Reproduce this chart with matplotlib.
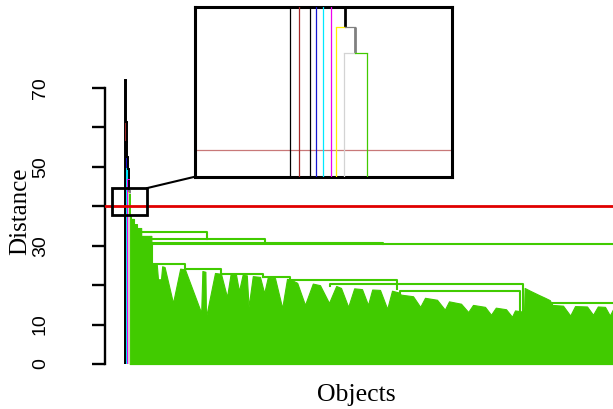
import numpy as np
import matplotlib
matplotlib.use("Agg")
import matplotlib.pyplot as plt
from matplotlib.patches import Rectangle, ConnectionPatch

plt.rcParams["font.family"] = ["Liberation Sans", "DejaVu Sans"]

GREEN = "#41CB00"

# ---------------------------------------------------------------- data
# Small clusters that join the tree one at a time (left to right);
# after them comes the root of the large green cluster.
leaf_colors = ["#000000", "#A52A2A", "#000000", "#1515D0", "#00E8FF",
               "#EE00EE", "#FFF000", "#D3D3D3"]
chain_heights = [72.0, 61.4, 56.4, 52.5, 49.5, 46.8, 43.8, 43.0]
node_colors = ["#000000"] * 7 + ["#808080"]
green_root_pos = 8.5
green_root_height = 37.8

# Top outline of the dense part of the green cluster (object index, distance)
green_edge_x = [8, 10, 10, 15, 15, 20, 20, 27, 27, 44, 44,
                45, 53, 55, 60, 62, 66, 80, 92, 100, 127, 129, 134, 135, 150,
                160, 170, 176, 185, 190, 196, 203, 206, 213, 225, 232, 238,
                250, 262, 270, 275,
                287, 300, 313, 325, 340, 352, 360, 372, 382, 395, 405, 412,
                425, 437, 445, 455,
                460, 480, 492, 500, 520, 533, 540, 560, 572, 580, 600, 610,
                618, 635, 645, 650, 663,
                665, 666, 675, 690, 700, 708, 712, 730, 742, 750, 770, 780,
                788, 800, 808, 815, 830]
green_edge_h = [37.8, 37.8, 36.8, 36.8, 35.5, 35.5, 34.5, 34.5, 32.5, 32.5, 25.3,
                25.3, 25.2, 21.5, 21.5, 24.8, 24.6, 15.5, 24.2, 24.0, 13.0,
                23.6, 23.4, 11.9, 23.1,
                22.9, 17.0, 22.8, 22.7, 18.5, 22.6, 22.5, 14.5, 22.3, 22.1,
                18.0, 22.0, 21.8, 14.2, 21.6, 21.5,
                20.6, 15.0, 20.4, 20.0, 15.5, 19.8, 19.3, 14.5, 19.2, 19.0,
                15.0, 18.9, 18.8, 14.0, 18.6, 18.2,
                17.6, 17.2, 14.5, 16.8, 16.3, 13.8, 15.9, 15.3, 13.2, 15.0,
                14.5, 12.5, 14.3, 13.9, 12.0, 13.6, 13.3,
                13.3, 19.3, 18.6, 17.5, 16.8, 16.2, 15.0, 14.8, 12.3, 14.7,
                14.6, 12.5, 14.6, 14.5, 12.3, 14.4, 14.4]

# Upper links of the green cluster: ends, height, and the heights of the
# child nodes below the left and right ends
link_left = [27, 40, 40, 45, 45, 100, 160, 230, 275, 341, 458, 712]
link_right = [137, 233, 430, 830, 100, 160, 230, 275, 453, 663, 658, 830]
link_height = [33.5, 31.7, 30.8, 30.4, 25.3, 24.0, 22.9, 22.0, 21.2, 20.4,
               18.4, 15.5]
link_left_child = [32.5, 31.0, 30.0, 25.3, 25.3, 24.0, 22.9, 22.0, 21.2,
                   19.8, 17.6, 15.0]
link_right_child = [31.7, 30.8, 30.4, 0.0, 24.0, 22.9, 22.0, 21.2, 19.0,
                    13.3, 13.3, 0.0]

cut_height = 40
y_ticks = [0, 10, 20, 30, 40, 50, 60, 70]
y_tick_labels = ["0", "10", "", "30", "", "50", "", "70"]

# leaf spacing used in the magnified view
inset_leaf_x = [37.1, 40.6, 44.7, 47.0, 49.9, 52.9, 54.7, 58.0]
inset_root_x = 66.8


def draw_chain(ax, leaf_x, root_x, floor, lw_leaf, lw_node):
    """Draw the chain of small clusters joining the green cluster,
    from the top merge downwards."""
    n = len(chain_heights)
    # node positions, built from the bottom of the chain upwards
    node_x = [0.0] * n
    child = root_x
    for k in reversed(range(n)):
        node_x[k] = (leaf_x[k] + child) / 2.0
        child = node_x[k]
    for k in range(n):
        h = chain_heights[k]
        lx, nx = leaf_x[k], node_x[k]
        if k + 1 < n:
            cx, ch, ccol = node_x[k + 1], chain_heights[k + 1], node_colors[k + 1]
            lw_c = lw_node
        else:
            cx, ch, ccol = root_x, green_root_height, GREEN
            lw_c = lw_leaf
        ax.plot([lx, lx], [floor, h], color=leaf_colors[k], lw=lw_leaf,
                solid_capstyle="butt", zorder=3)
        ax.plot([lx, nx], [h, h], color=leaf_colors[k], lw=lw_leaf, zorder=3)
        ax.plot([nx, cx], [h, h], color=ccol, lw=lw_leaf, zorder=3)
        ax.plot([cx, cx], [ch, h], color=ccol, lw=lw_c,
                solid_capstyle="butt", zorder=3)


W, H = 613, 409
fig = plt.figure(figsize=(W / 100, H / 100), dpi=100)
ax = fig.add_axes([105 / W, (H - 375.4) / H, 508 / W, 306.6 / H])
ax.set_xlim(-33.3, 813.3)
ax.set_ylim(-2.88, 74.88)

# green cluster: dense body plus its upper links
ax.fill_between(green_edge_x, 0, green_edge_h, color=GREEN, lw=0.8,
                edgecolor=GREEN, zorder=2)
for l, r, h, dl, dr in zip(link_left, link_right, link_height,
                           link_left_child, link_right_child):
    ax.plot([l, l, r, r], [dl, h, h, dr], color=GREEN, lw=1.5, zorder=2)

leaf_pos = list(range(len(chain_heights)))
draw_chain(ax, leaf_pos, green_root_pos, 0, 1.4, 1.4)

ax.axhline(cut_height, color="#E00000", lw=2.0, zorder=4)

for s in ("top", "right", "bottom"):
    ax.spines[s].set_visible(False)
ax.spines["left"].set_bounds(0, 70)
ax.spines["left"].set_linewidth(1.7)
ax.set_xticks([])
ax.set_yticks(y_ticks)
ax.set_yticklabels(y_tick_labels)
ax.tick_params(axis="y", length=9.5, width=1.7, pad=31, labelsize=14)
for lab in ax.get_yticklabels():
    lab.set_rotation(90)
    lab.set_va("center")

fig.text(30.8 / W, (H - 211) / H, "Distance", rotation=90, ha="right",
         va="center", fontsize=18, family="Liberation Serif")
fig.text(356 / W, (H - 401) / H, "Objects", ha="center", va="baseline",
         fontsize=18.5, family="Liberation Serif")

# box marking the magnified region
box = Rectangle((-22.2, 37.8), 58.4, 6.8, fill=False, ec="black", lw=2.0,
                zorder=6)
ax.add_patch(box)

# magnified view around the cut
ins = fig.add_axes([195 / W, (H - 176.7) / H, 257 / W, 169.7 / H])
ins.set_xlim(0, 100)
ins.set_ylim(39.16, 44.42)
ins.set_xticks([])
ins.set_yticks([])
for s in ins.spines.values():
    s.set_linewidth(2.2)
ins.axhline(cut_height, color="#C87878", lw=0.9, zorder=1)
draw_chain(ins, inset_leaf_x, inset_root_x, 30, 0.9, 2.0)

con = ConnectionPatch(xyA=(36.2, 44.6), coordsA=ax.transData,
                      xyB=(0, 0), coordsB=ins.transAxes,
                      color="black", lw=1.5, zorder=7)
fig.add_artist(con)

fig.savefig("out.png", dpi=100)
